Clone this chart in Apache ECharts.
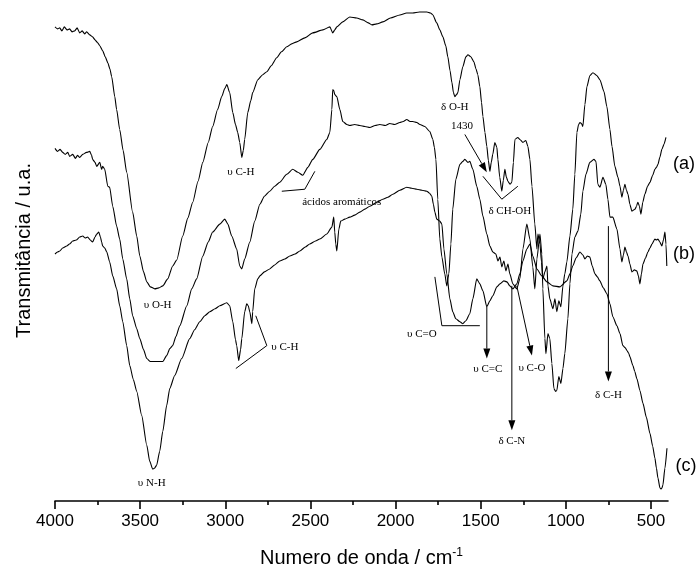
<!DOCTYPE html>
<html>
<head>
<meta charset="utf-8">
<script src="https://cdn.jsdelivr.net/npm/echarts@6/dist/echarts.min.js"></script>
<style>
html,body{margin:0;padding:0;background:#fff;}
#c{width:699px;height:573px;}
</style>
</head>
<body>
<div id="c"></div>
<script>
// ---- Data (wavenumber cm-1, transmittance u.a.) ----
const majorTicks = [4000, 3500, 3000, 2500, 2000, 1500, 1000, 500];
const minorTicks = [3750, 3250, 2750, 2250, 1750, 1250, 750];

const seriesA = [
[4000,476],[3985,474],[3972,475],[3960,472],[3945,476],[3930,473],[3914,474],[3900,471],[3884,472],[3870,475],[3855,470],[3840,472],[3826,469],[3814,471],[3796,468],[3779,466],[3765,463],[3749,460],[3737,457],[3720,452],[3705,446],[3690,440],[3678,434],[3667,426],[3649,406],[3638,393],[3620,373],[3600,352],[3579,330],[3544,290],[3520,266],[3502,246],[3480,230],[3461,220],[3440,215],[3414,213],[3390,214],[3367,216],[3338,223],[3309,236],[3285,242],[3250,266],[3220,284],[3191,300],[3160,321],[3132,340],[3100,360],[3074,376],[3045,393],[3021,406],[3003,414],[2991,418],[2974,410],[2956,390],[2940,378],[2927,370],[2915,360],[2903,345],[2894,352],[2886,363],[2868,390],[2850,402],[2839,410],[2809,423],[2780,428],[2756,431],[2730,437],[2698,445],[2670,451],[2639,456],[2610,459],[2580,461],[2533,465],[2486,470],[2427,473],[2386,476],[2369,470],[2357,473],[2345,476],[2310,481],[2269,486],[2228,485],[2192,483],[2160,480],[2139,478],[2110,479],[2075,481],[2030,485],[1975,488],[1935,490],[1899,490],[1860,491],[1816,491],[1795,490],[1781,488],[1758,480],[1740,473],[1722,466],[1705,457],[1693,446],[1680,432],[1669,420],[1660,410],[1652,406],[1642,408],[1634,410],[1622,423],[1605,436],[1587,446],[1575,448],[1558,446],[1540,441],[1528,434],[1517,428],[1505,416],[1495,400],[1487,386],[1475,370],[1464,356],[1455,342],[1446,331],[1438,340],[1429,348],[1417,360],[1405,355],[1399,343],[1388,325],[1376,311],[1367,322],[1358,333],[1349,325],[1340,321],[1328,318],[1317,320],[1308,340],[1299,363],[1282,365],[1270,363],[1252,360],[1235,362],[1223,356],[1211,343],[1199,316],[1182,278],[1170,253],[1164,268],[1152,258],[1143,240],[1135,223],[1123,230],[1111,236],[1105,216],[1094,203],[1076,193],[1064,203],[1053,190],[1041,201],[1029,195],[1017,216],[1006,228],[994,240],[976,266],[959,293],[947,328],[935,370],[925,378],[917,380],[908,379],[900,376],[888,398],[876,416],[859,427],[841,430],[817,427],[800,423],[776,411],[759,396],[741,373],[729,356],[712,336],[694,325],[682,316],[671,305],[662,312],[653,318],[644,312],[635,308],[624,298],[612,291],[603,292],[594,293],[585,296],[577,300],[568,296],[559,288],[548,300],[536,308],[520,316],[506,320],[490,327],[477,333],[468,335],[459,338],[448,345],[436,353],[424,358],[412,365]
];

const seriesB = [
[4000,354],[3985,351],[3970,353],[3955,350],[3940,348],[3925,350],[3914,346],[3896,348],[3880,344],[3868,347],[3855,345],[3837,348],[3815,350],[3796,351],[3785,347],[3779,343],[3765,340],[3755,336],[3737,340],[3726,333],[3720,336],[3708,333],[3690,316],[3679,315],[3661,296],[3638,276],[3620,263],[3602,243],[3579,223],[3561,203],[3544,186],[3520,173],[3502,163],[3480,152],[3461,143],[3440,140],[3426,140],[3400,140],[3367,140],[3344,146],[3326,153],[3309,156],[3290,165],[3267,176],[3226,196],[3197,213],[3168,223],[3132,246],[3100,260],[3074,270],[3032,278],[3003,283],[2985,278],[2962,266],[2933,253],[2915,236],[2903,233],[2886,243],[2856,260],[2827,281],[2797,298],[2770,306],[2739,311],[2710,316],[2680,320],[2639,328],[2604,333],[2574,330],[2545,327],[2515,335],[2486,343],[2445,353],[2404,363],[2386,370],[2374,393],[2369,413],[2363,412],[2357,408],[2345,406],[2327,393],[2310,381],[2286,378],[2269,377],[2240,378],[2210,377],[2180,376],[2151,375],[2120,377],[2092,378],[2060,377],[2034,379],[2005,378],[1975,380],[1955,381],[1934,383],[1915,381],[1899,381],[1875,380],[1857,378],[1828,376],[1799,371],[1781,363],[1772,355],[1763,343],[1752,303],[1740,263],[1728,245],[1711,228],[1699,216],[1687,228],[1675,258],[1664,293],[1646,323],[1622,338],[1605,341],[1593,343],[1575,340],[1564,341],[1546,333],[1523,316],[1505,303],[1487,286],[1464,268],[1446,256],[1429,250],[1411,248],[1399,241],[1387,245],[1376,235],[1364,241],[1352,231],[1340,238],[1329,228],[1311,218],[1288,213],[1270,223],[1252,253],[1229,278],[1211,263],[1194,235],[1182,213],[1170,243],[1152,268],[1141,248],[1135,213],[1123,163],[1117,148],[1105,168],[1094,163],[1082,138],[1070,113],[1060,110],[1053,111],[1041,125],[1029,118],[1017,133],[1006,148],[988,183],[976,218],[964,248],[947,265],[929,271],[912,288],[900,311],[882,328],[859,340],[835,343],[823,341],[812,318],[800,315],[782,325],[765,318],[753,303],[741,285],[724,285],[700,273],[682,253],[671,240],[662,247],[653,255],[644,250],[635,246],[624,238],[612,230],[597,232],[583,231],[574,226],[565,218],[556,228],[547,238],[532,244],[518,250],[506,254],[494,258],[477,263],[468,262],[459,263],[448,260],[436,256],[427,262],[418,270],[412,258],[407,236]
];

const seriesC = [
[4000,248],[3985,250],[3972,251],[3955,254],[3931,256],[3915,258],[3896,261],[3875,262],[3855,265],[3837,266],[3822,264],[3808,265],[3793,262],[3779,260],[3765,265],[3755,268],[3743,270],[3733,265],[3726,260],[3720,256],[3708,254],[3696,250],[3679,240],[3661,226],[3638,213],[3620,196],[3602,180],[3579,156],[3561,136],[3540,122],[3520,110],[3491,86],[3461,56],[3444,40],[3426,32],[3415,33],[3403,36],[3385,50],[3367,70],[3344,96],[3326,113],[3297,126],[3256,143],[3209,163],[3180,172],[3150,180],[3120,186],[3091,190],[3060,193],[3032,196],[2991,199],[2974,196],[2956,180],[2940,162],[2933,156],[2921,141],[2910,152],[2903,163],[2886,190],[2874,198],[2865,196],[2856,190],[2844,178],[2839,190],[2827,213],[2809,223],[2797,226],[2770,230],[2739,233],[2710,237],[2680,241],[2650,243],[2621,246],[2590,248],[2562,251],[2530,255],[2504,258],[2470,261],[2445,263],[2404,268],[2374,275],[2363,285],[2357,270],[2351,258],[2345,251],[2333,273],[2322,281],[2298,283],[2269,285],[2240,287],[2210,290],[2180,293],[2151,296],[2110,300],[2075,303],[2045,305],[2016,308],[1975,312],[1934,315],[1905,314],[1875,313],[1845,312],[1816,311],[1800,309],[1787,306],[1778,298],[1769,290],[1758,283],[1740,281],[1728,278],[1716,253],[1699,228],[1681,203],[1664,190],[1646,183],[1622,180],[1605,178],[1587,181],[1564,188],[1546,203],[1523,223],[1505,218],[1487,211],[1464,195],[1446,201],[1429,206],[1405,215],[1387,218],[1364,221],[1346,220],[1329,216],[1311,213],[1288,218],[1270,228],[1252,241],[1229,253],[1211,258],[1194,246],[1170,233],[1141,226],[1111,220],[1076,216],[1035,215],[994,221],[976,228],[959,236],[940,244],[917,250],[900,247],[888,243],[874,246],[859,245],[845,236],[829,228],[815,225],[800,221],[780,214],[759,208],[741,198],[724,185],[700,176],[682,168],[665,156],[652,154],[641,151],[630,148],[624,145],[606,136],[595,130],[583,123],[565,111],[547,98],[527,84],[506,68],[490,55],[477,43],[468,33],[459,23],[447,13],[440,12],[436,13],[430,16],[418,33],[406,53]
];

// ---- Annotations (data coordinates) ----
const annTexts = [
  {t:'υ C-H', at:[2909,330]},
  {t:'δ O-H', at:[1652,395]},
  {t:'1430', at:[1610,376]},
  {t:'δ CH-OH', at:[1329,291]},
  {t:'ácidos aromáticos', at:[2316,300]},
  {t:'υ O-H', at:[3397,197]},
  {t:'υ C-H', at:[2650,155]},
  {t:'υ N-H', at:[3432,18]},
  {t:'υ C=O', at:[1846,168]},
  {t:'υ C=C', at:[1458,132]},
  {t:'δ C-N', at:[1317,60]},
  {t:'υ C-O', at:[1199,133]},
  {t:'δ C-H', at:[750,106]}
];
const annLines = [
  [[2668,311],[2533,313],[2474,331]],
  [[1487,326],[1376,303],[1282,316]],
  [[2938,133],[2756,156],[2821,186]],
  [[1769,225],[1728,176],[1505,176]]
];
const annArrows = [
  [[1593,368],[1464,330]],
  [[1464,195],[1464,143]],
  [[1317,216],[1317,71]],
  [[1288,216],[1199,146]],
  [[750,276],[750,120]]
];
const curveLabels = [
  {t:'(a)', at:[306,338]},
  {t:'(b)', at:[306,248]},
  {t:'(c)', at:[295,35]}
];

const chart = echarts.init(document.getElementById('c'));
const lineStyle = {color:'#000', width:1.1};
function mk(name, data){
  return {name, type:'line', data, showSymbol:false, symbol:'none', smooth:0.2, smoothMonotone:'x',
    lineStyle, silent:true, animation:false, xAxisIndex:0, yAxisIndex:0};
}
chart.setOption({
  animation:false,
  grid:{left:55, right:31, top:0, bottom:70, containLabel:false},
  xAxis:[{
    type:'value', min:400, max:4000, inverse:true,
    name:'{a|Numero de onda / cm}{s|-1}', nameLocation:'middle', nameGap:46,
    nameTextStyle:{rich:{
      a:{fontFamily:'Liberation Sans', fontSize:20, color:'#000', lineHeight:22},
      s:{fontFamily:'Liberation Sans', fontSize:12, color:'#000', verticalAlign:'top', lineHeight:22}
    }},
    axisLine:{show:true, lineStyle:{color:'#000', width:1.6}},
    axisTick:{show:true, inside:false, length:8, lineStyle:{color:'#000', width:1.6}, customValues:majorTicks},
    axisLabel:{show:true, margin:12, fontFamily:'Liberation Sans', fontSize:17, color:'#000',
      customValues:majorTicks, formatter:function(v){return String(v);}},
    splitLine:{show:false}
  },{
    type:'value', min:400, max:4000, inverse:true, position:'bottom', gridIndex:0,
    axisLine:{show:false},
    axisTick:{show:true, inside:false, length:4, lineStyle:{color:'#000', width:1.6}, customValues:minorTicks},
    axisLabel:{show:false, customValues:minorTicks},
    splitLine:{show:false}
  }],
  yAxis:{
    type:'value', min:0, max:503,
    name:'Transmitância / u.a.', nameLocation:'middle', nameGap:21,
    nameTextStyle:{fontFamily:'Liberation Sans', fontSize:20, color:'#000'},
    axisLine:{show:false}, axisTick:{show:false}, axisLabel:{show:false}, splitLine:{show:false}
  },
  series:[mk('(a)', seriesA), mk('(b)', seriesB), mk('(c)', seriesC)]
});

function P(p){ return chart.convertToPixel({xAxisIndex:0, yAxisIndex:0}, p); }
const els = [];
annTexts.forEach(a=>{
  const p = P(a.at);
  els.push({type:'text', x:p[0], y:p[1], silent:true,
    style:{text:a.t, font:'11px "Liberation Serif"', fill:'#000', align:'center', verticalAlign:'middle'}});
});
annLines.forEach(l=>{
  els.push({type:'polyline', silent:true, shape:{points:l.map(P)}, style:{stroke:'#000', lineWidth:1, fill:null}});
});
annArrows.forEach(a=>{
  const p0 = P(a[0]), p1 = P(a[1]);
  const dx = p1[0]-p0[0], dy = p1[1]-p0[1], L = Math.hypot(dx,dy), ux = dx/L, uy = dy/L;
  const hl = 10, hw = 3.5;
  const bx = p1[0]-ux*hl, by = p1[1]-uy*hl;
  els.push({type:'line', silent:true, shape:{x1:p0[0], y1:p0[1], x2:bx, y2:by}, style:{stroke:'#000', lineWidth:1}});
  els.push({type:'polygon', silent:true, shape:{points:[[p1[0],p1[1]],[bx-uy*hw, by+ux*hw],[bx+uy*hw, by-ux*hw]]}, style:{fill:'#000'}});
});
curveLabels.forEach(a=>{
  const p = P(a.at);
  els.push({type:'text', x:p[0], y:p[1], silent:true,
    style:{text:a.t, font:'18px "Liberation Sans"', fill:'#000', align:'center', verticalAlign:'middle'}});
});
chart.setOption({graphic:els});
</script>
</body>
</html>
